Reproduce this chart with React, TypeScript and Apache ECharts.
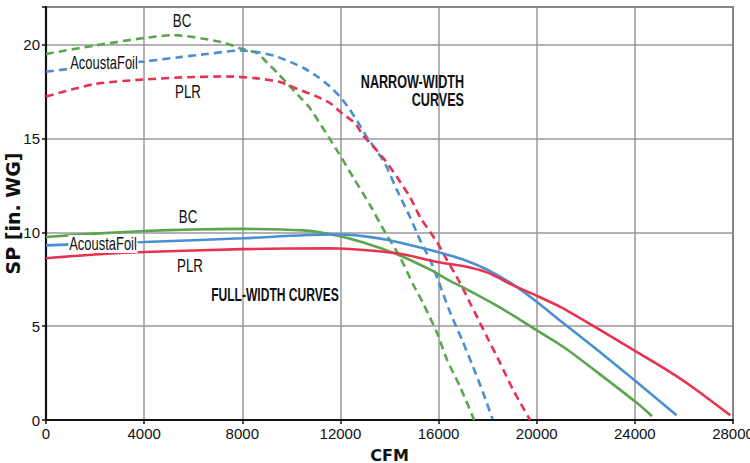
import React, { useEffect, useRef } from "react";
import * as echarts from "echarts";

// ---- Data (CFM vs SP in. WG) ----
const narrowBcX = [0, 2000, 4000, 5200, 7200, 7900, 8600, 9000, 9400, 9830, 10350, 10760, 11860, 12520, 13210, 13820, 14430, 14960, 15370, 15940, 16350, 16880, 17450];
const narrowBcY = [19.5, 19.95, 20.35, 20.5, 20.12, 19.8, 19.55, 19.05, 18.53, 17.93, 17.2, 16.6, 14.36, 12.93, 11.44, 10.0, 8.67, 7.23, 6.22, 4.63, 3.19, 1.76, 0];

const narrowAfX = [0, 2000, 4000, 5460, 6560, 7900, 8600, 9300, 10000, 10500, 11000, 11500, 12000, 12400, 12720, 13090, 13410, 13800, 14310, 14840, 15250, 15660, 15980, 16470, 16960, 17410, 17820, 18200];
const narrowAfY = [18.55, 18.87, 19.1, 19.33, 19.5, 19.68, 19.6, 19.4, 19.05, 18.75, 18.35, 17.85, 17.2, 16.5, 15.85, 15.05, 14.47, 13.7, 12.23, 10.8, 9.57, 8.51, 7.45, 5.74, 4.26, 2.82, 1.44, 0.05];

const narrowPlrX = [0, 2000, 4000, 5750, 7380, 8600, 9540, 10230, 11000, 11600, 12070, 12600, 12920, 13410, 13820, 14310, 14840, 15250, 15940, 16350, 16880, 17290, 17980, 18510, 19040, 19730];
const narrowPlrY = [17.23, 17.9, 18.14, 18.26, 18.3, 18.2, 18.0, 17.64, 17.25, 16.86, 16.33, 15.8, 15.16, 14.47, 13.83, 12.93, 11.86, 10.8, 9.47, 8.51, 7.29, 6.22, 4.41, 3.03, 1.6, 0];

const fullBcX = [0, 2000, 4000, 6000, 8000, 10500, 11600, 12900, 14400, 15700, 16400, 17000, 18500, 19730, 21080, 22460, 24090, 24700];
const fullBcY = [9.75, 9.93, 10.07, 10.15, 10.18, 10.1, 9.89, 9.47, 8.78, 7.98, 7.45, 7.07, 6.0, 5.0, 3.9, 2.55, 0.9, 0.2];

const fullAfX = [0, 2000, 4000, 8000, 11600, 12000, 13000, 14000, 15000, 16000, 17000, 18000, 19000, 20000, 21000, 22500, 24000, 25700];
const fullAfY = [9.3, 9.4, 9.48, 9.68, 9.88, 9.88, 9.78, 9.58, 9.27, 8.94, 8.55, 8.0, 7.25, 6.3, 5.25, 3.7, 2.1, 0.25];

const fullPlrX = [0, 2000, 4000, 8000, 11600, 14300, 16000, 17000, 18000, 19000, 20000, 21000, 22460, 24090, 25200, 26300, 27890];
const fullPlrY = [8.62, 8.82, 8.95, 9.1, 9.15, 8.88, 8.4, 8.2, 7.85, 7.2, 6.62, 6.0, 4.89, 3.62, 2.75, 1.8, 0.25];

const xMin = 0;
const xMax = 28000;
const xInterval = 4000;
const yMin = 0;
const yMax = 22;
const yInterval = 5;

const GREEN = "#5aa64c";
const BLUE = "#4a8fd3";
const RED = "#e8324f";

const SANS = "'Liberation Sans', Arial, sans-serif";
const HEAVY = "'DejaVu Sans', sans-serif";

const pairs = (xs: number[], ys: number[]) => xs.map((x, i) => [x, ys[i]]);

export default function App() {
  const ref = useRef<HTMLDivElement>(null);

  useEffect(() => {
    if (!ref.current) return;
    const chart = echarts.init(ref.current, null, { renderer: "svg" });

    const mkSeries = (name: string, xs: number[], ys: number[], color: string, dashed: boolean) => ({
      name,
      type: "line",
      data: pairs(xs, ys),
      smooth: 0.25,
      showSymbol: false,
      symbol: "none",
      lineStyle: {
        color,
        width: 2.6,
        type: dashed ? [8, 5] : "solid",
        cap: "butt",
      },
      z: 3,
    });

    const label = (text: string, x: number, y: number, opts: any = {}) => ({
      type: "text",
      x,
      y,
      z: 100,
      scaleX: opts.scaleX || 0.74,
      style: {
        text,
        fontFamily: SANS,
        fontSize: opts.size || 18,
        fontWeight: opts.weight || "normal",
        fill: "#111",
        align: opts.align || "center",
        verticalAlign: "middle",
        backgroundColor: opts.bg,
        padding: opts.bg ? [0, 1] : 0,
      },
    });

    chart.setOption({
      animation: false,
      grid: {
        left: 46,
        right: 17,
        top: 7,
        bottom: 43,
        show: true,
        borderColor: "#111",
        borderWidth: 1.5,
        backgroundColor: "#fff",
        outerBoundsMode: "none",
        containLabel: false,
      },
      xAxis: {
        type: "value",
        min: xMin,
        max: xMax,
        interval: xInterval,
        name: "CFM",
        nameLocation: "middle",
        nameGap: 27,
        nameMoveOverlap: false,
        nameTextStyle: { fontFamily: HEAVY, fontWeight: "bold", fontSize: 16, color: "#111" },
        axisLine: { show: true, lineStyle: { color: "#111", width: 2.2 } },
        axisTick: { show: true, length: 4, lineStyle: { color: "#111", width: 1.5 } },
        axisLabel: { fontFamily: SANS, fontSize: 15, color: "#111", margin: 6, formatter: (v: number) => String(v) },
        splitLine: { show: true, lineStyle: { color: "#999", width: 1.5 } },
      },
      yAxis: {
        type: "value",
        min: yMin,
        max: yMax,
        interval: yInterval,
        name: "SP [in. WG]",
        nameLocation: "middle",
        nameGap: 24,
        nameMoveOverlap: false,
        nameTextStyle: { fontFamily: HEAVY, fontWeight: "bold", fontSize: 19, color: "#111" },
        axisLine: { show: true, lineStyle: { color: "#111", width: 2.2 } },
        axisTick: { show: true, length: 4, lineStyle: { color: "#111", width: 1.5 } },
        axisLabel: {
          fontFamily: SANS,
          fontSize: 15,
          color: "#111",
          margin: 6,
          formatter: (v: number) => (v > 20 ? "" : String(v)),
        },
        splitLine: { show: true, lineStyle: { color: "#999", width: 1.5 } },
      },
      series: [
        mkSeries("Narrow BC", narrowBcX, narrowBcY, GREEN, true),
        mkSeries("Narrow AcoustaFoil", narrowAfX, narrowAfY, BLUE, true),
        mkSeries("Narrow PLR", narrowPlrX, narrowPlrY, RED, true),
        mkSeries("Full BC", fullBcX, fullBcY, GREEN, false),
        mkSeries("Full AcoustaFoil", fullAfX, fullAfY, BLUE, false),
        mkSeries("Full PLR", fullPlrX, fullPlrY, RED, false),
      ],
      graphic: [
        label("BC", 182, 21),
        label("AcoustaFoil", 104, 63, { bg: "#fff", scaleX: 0.72 }),
        label("PLR", 188, 92),
        label("BC", 188, 217),
        label("AcoustaFoil", 103, 244, { bg: "#fff", scaleX: 0.72 }),
        label("PLR", 190, 266),
        label("NARROW-WIDTH", 464, 82, { weight: "bold", align: "right", scaleX: 0.7 }),
        label("CURVES", 464, 100, { weight: "bold", align: "right", scaleX: 0.7 }),
        label("FULL-WIDTH CURVES", 275, 295, { weight: "bold", scaleX: 0.67 }),
      ],
    });

    return () => chart.dispose();
  }, []);

  return (
    <div
      ref={ref}
      style={{ position: "fixed", left: 0, top: 0, width: 750, height: 463, background: "#fff" }}
    />
  );
}
